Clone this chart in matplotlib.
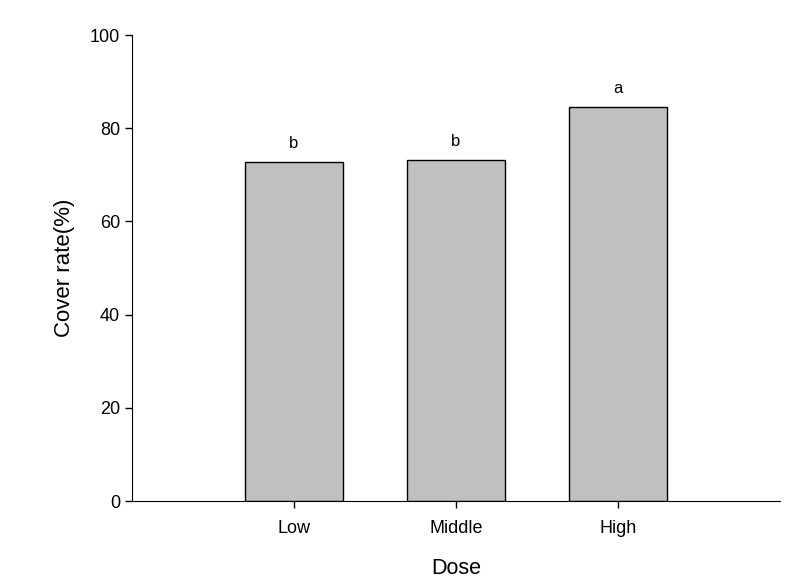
import matplotlib
matplotlib.use("Agg")
import matplotlib.pyplot as plt

plt.rcParams['font.family'] = ['Liberation Sans', 'DejaVu Sans']

doses = ["Low", "Middle", "High"]
cover = [72.7, 73.1, 84.5]
letters = ["b", "b", "a"]

fig = plt.figure(figsize=(7.97, 5.85), dpi=100)
ax = fig.add_axes([132 / 797, 84 / 585, 648 / 797, 466 / 585])

pos = [1, 2, 3]
ax.bar(pos, cover, width=0.6, color="#c0c0c0", edgecolor="black", linewidth=1.0)
for x, v, s in zip(pos, cover, letters):
    ax.text(x, v + 2.5, s, ha="center", va="bottom", fontsize=12)

ax.set_xlim(0, 4)
ax.set_ylim(0, 100)
ax.set_yticks([0, 20, 40, 60, 80, 100])
ax.set_xticks(pos)
ax.set_xticklabels(doses)
ax.tick_params(axis="both", direction="out", length=5, width=1, labelsize=13)
ax.tick_params(axis="x", pad=9)
ax.spines["top"].set_visible(False)
ax.spines["right"].set_visible(False)
ax.set_xlabel("Dose", fontsize=15.5, labelpad=15)
ax.set_ylabel("Cover rate(%)", fontsize=16, labelpad=11)

fig.savefig("out.png", dpi=100)
